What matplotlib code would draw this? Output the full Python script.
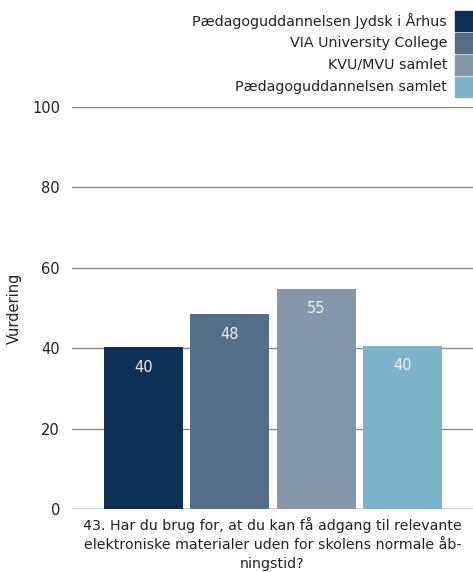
import matplotlib.pyplot as plt
from matplotlib.patches import Rectangle

# data
series = ["Pædagoguddannelsen Jydsk i Århus", "VIA University College",
          "KVU/MVU samlet", "Pædagoguddannelsen samlet"]
values = [40.3, 48.4, 54.8, 40.6]
value_labels = ["40", "48", "55", "40"]
colors = ["#0c2f55", "#546e8a", "#8597ab", "#7bb4c9"]
yticks = [0, 20, 40, 60, 80, 100]
question = ("43. Har du brug for, at du kan få adgang til relevante\n"
            "elektroniske materialer uden for skolens normale åb-\n"
            "ningstid?")

W, H = 473, 572
fig = plt.figure(figsize=(W / 100, H / 100), dpi=100)
plt.rcParams['font.family'] = ['DejaVu Sans']

# axes placement in pixels
left, right, top, bottom = 72, 473, 107, 509
ax = fig.add_axes([left / W, 1 - bottom / H, (right - left) / W, (bottom - top) / H])

x = range(len(values))
bars = ax.bar(x, values, width=0.913, color=colors, zorder=2)
for b, lab in zip(bars, value_labels):
    ax.text(b.get_x() + b.get_width() / 2, b.get_height() - 5, lab,
            ha="center", va="center", color="#eeeeee", fontsize=10.5, zorder=3)

ax.set_xlim(-0.827, 3.815)
ax.set_ylim(0, 100)
ax.set_yticks(yticks)
ax.tick_params(axis="y", length=0, pad=8.6, labelsize=10.5, labelcolor="#222222")
ax.set_xticks([])
for s in ax.spines.values():
    s.set_visible(False)
ax.grid(axis="y", color="#8c8c8c", linewidth=1, zorder=1)
ax.axhline(0, color="#8c8c8c", linewidth=1, zorder=1)

ax.set_ylabel("Vurdering", fontsize=10.5, color="#222222")
ax.yaxis.set_label_coords(-0.125, 0.5)
ax.set_xlabel(question, fontsize=10.2, color="#222222", labelpad=6, linespacing=1.42)

# legend, top right
row_y = [21, 43, 65, 87]
for name, c, yy in zip(series, colors, row_y):
    fig.text(447 / W, 1 - yy / H, name, ha="right", va="center", fontsize=10.3, color="#222222")
    fig.patches.append(Rectangle((455 / W, 1 - (yy + 10) / H), 18 / W, 20 / H,
                                 transform=fig.transFigure, color=c, figure=fig))

fig.savefig("out.png", dpi=100)
